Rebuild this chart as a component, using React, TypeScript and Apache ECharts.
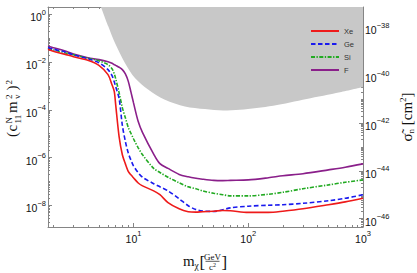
import React, { useEffect, useRef } from "react";
import * as echarts from "echarts";

// WIMP mass samples [GeV/c^2]
const masses = [1.8, 2, 2.5, 3, 4, 5, 6, 6.5, 6.8, 7, 7.5, 8, 8.5, 9, 9.5, 10, 11, 12, 15, 17, 20, 25, 30, 35, 40, 50, 60, 70, 100, 150, 200, 300, 500, 700, 1000];
// log10 of (c11^N m_v^2)^2 limits
const xeLog = [-1.47, -1.55, -1.67, -1.78, -1.93, -2.14, -2.53, -2.95, -3.23, -3.79, -5.13, -5.88, -6.26, -6.57, -6.72, -6.84, -7.06, -7.18, -7.39, -7.55, -7.88, -8.14, -8.26, -8.28, -8.26, -8.24, -8.21, -8.22, -8.29, -8.29, -8.24, -8.14, -7.97, -7.85, -7.70];
const geLog = [-1.39, -1.47, -1.57, -1.70, -1.86, -2.03, -2.32, -2.57, -2.83, -3.03, -3.54, -4.65, -5.32, -5.80, -6.10, -6.34, -6.63, -6.82, -7.09, -7.22, -7.39, -7.72, -8.01, -8.17, -8.23, -8.25, -8.18, -8.10, -8.03, -7.99, -7.97, -7.91, -7.80, -7.70, -7.55];
const siLog = [-1.42, -1.49, -1.61, -1.70, -1.84, -1.95, -2.11, -2.28, -2.49, -2.70, -3.29, -3.91, -4.33, -4.73, -4.98, -5.21, -5.59, -5.88, -6.45, -6.62, -6.82, -7.05, -7.22, -7.30, -7.39, -7.49, -7.55, -7.60, -7.60, -7.53, -7.45, -7.30, -7.14, -7.03, -6.93];
const fLog = [-1.34, -1.40, -1.53, -1.67, -1.82, -1.90, -1.99, -2.05, -2.11, -2.14, -2.22, -2.32, -2.50, -2.80, -3.25, -3.70, -4.49, -4.95, -5.85, -6.25, -6.45, -6.70, -6.80, -6.86, -6.90, -6.95, -6.96, -6.95, -6.93, -6.84, -6.76, -6.67, -6.51, -6.40, -6.26];

// grey excluded region boundary
const exclMass = [5.21, 6.03, 6.9, 8.43, 10.3, 13.5, 18.8, 28.1, 42, 60.5, 84.7, 165, 323, 630, 1000];
const exclLog = [0.3, -0.51, -1.21, -2.04, -2.67, -3.16, -3.58, -3.86, -3.97, -4.03, -4.0, -3.83, -3.55, -3.27, -3.05];

const seriesNames = ["Xe", "Ge", "Si", "F"];
const seriesColors = ["#ee1a1a", "#1a1aee", "#22aa22", "#8a1f8a"];

// axis ranges (log10)
const xMinVal = 1.8;
const xMaxVal = 1000;
const yLeftRange = [-8.9, 0.3];
const yRightRange = [-46.35, -37.15];
const xLabelExps = [1, 2, 3];
const yLeftLabelExps = [0, -2, -4, -6, -8];
const yRightLabelExps = [-38, -40, -42, -44, -46];

const L = Math.log10;

function minorLogTicks(lo: number, hi: number, majors: number[]) {
  const out: number[] = [];
  for (let d = Math.floor(lo) - 1; d <= Math.ceil(hi); d++) {
    for (let k = 1; k <= 9; k++) {
      const v = d + L(k);
      if (v >= lo - 1e-9 && v <= hi + 1e-9 && !majors.some((m) => Math.abs(m - v) < 1e-6)) out.push(v);
    }
  }
  return out;
}

const fmtExp = (v: number) => {
  const r = Math.round(v);
  return r < 0 ? "\u2212" + Math.abs(r) : String(r);
};

const App = () => {
  const ref = useRef<HTMLDivElement>(null);
  useEffect(() => {
    const chart = echarts.init(ref.current!, null, { renderer: "svg" });
    const frame = "#858585";
    const xMin = L(xMinVal);
    const xMax = L(xMaxVal);
    const labelRich = {
      b: { fontSize: 10.5, fontFamily: "Liberation Sans", color: "#111", padding: [6, 0, 0, 0] },
      s: { fontSize: 7.5, fontFamily: "Liberation Sans", color: "#111", padding: [0, 0, 4, 0] },
    };
    const fmt = (v: number) => `{b|10}{s|${fmtExp(v)}}`;

    const xAxisDef = (pos: string, ticks: number[], len: number, line: boolean, labels: boolean) => ({
      type: "value",
      position: pos,
      min: xMin,
      max: xMax,
      axisLine: { show: line, onZero: false, lineStyle: { color: frame, width: 1 } },
      axisTick: { show: true, inside: true, length: len, customValues: ticks, lineStyle: { color: frame, width: 1 } },
      axisLabel: labels
        ? { show: true, customValues: xLabelExps, formatter: fmt, rich: labelRich, margin: 0 }
        : { show: false },
      splitLine: { show: false },
    });
    const yAxisDef = (pos: string, range: number[], ticks: number[], len: number, line: boolean, labelVals: number[] | null) => ({
      type: "value",
      position: pos,
      min: range[0],
      max: range[1],
      axisLine: { show: line, onZero: false, lineStyle: { color: frame, width: 1 } },
      axisTick: { show: true, inside: true, length: len, customValues: ticks, lineStyle: { color: frame, width: 1 } },
      axisLabel: labelVals
        ? { show: true, customValues: labelVals, formatter: fmt, rich: labelRich, margin: 2 }
        : { show: false },
      splitLine: { show: false },
    });

    const xMinor = minorLogTicks(xMin, xMax, xLabelExps);
    const yLMinor = minorLogTicks(yLeftRange[0], yLeftRange[1], yLeftLabelExps);
    const yRMinor = minorLogTicks(yRightRange[0], yRightRange[1], yRightLabelExps);

    const curves = [xeLog, geLog, siLog, fLog];
    const dashTypes: any[] = ["solid", [4.5, 2.5], [4, 1.5, 1.3, 1.5], "solid"];

    const lineSeries = curves.map((ys, i) => ({
      name: seriesNames[i],
      type: "line",
      xAxisIndex: 0,
      yAxisIndex: 0,
      data: masses.map((m, j) => [L(m), ys[j]]),
      symbol: "none",
      showSymbol: false,
      smooth: 0.3,
      clip: true,
      lineStyle: { color: seriesColors[i], width: 1.6, type: dashTypes[i] },
      itemStyle: { color: seriesColors[i] },
      z: 10 - i,
    }));

    const serif = "Liberation Serif";
    const ink = "#111";
    const t = (text: string, x: number, y: number, fontSize: number, extra: any = {}) => ({
      type: "text",
      x,
      y,
      style: { text, fontSize, fontFamily: serif, fill: ink, verticalAlign: "middle", align: "left", ...extra },
    });

    const option: any = {
      animation: false,
      backgroundColor: "#ffffff",
      grid: { left: 48, top: 7, width: 315, height: 220, containLabel: false },
      xAxis: [
        xAxisDef("bottom", xLabelExps, 4, true, true),
        xAxisDef("bottom", xMinor, 2, false, false),
        xAxisDef("top", xLabelExps, 4, true, false),
        xAxisDef("top", xMinor, 2, false, false),
      ],
      yAxis: [
        yAxisDef("left", yLeftRange, yLeftLabelExps, 4, true, yLeftLabelExps),
        yAxisDef("left", yLeftRange, yLMinor, 2, false, null),
        yAxisDef("right", yRightRange, yRightLabelExps, 4, true, yRightLabelExps),
        yAxisDef("right", yRightRange, yRMinor, 2, false, null),
      ],
      legend: {
        data: seriesNames,
        orient: "vertical",
        left: 305,
        top: 22,
        itemWidth: 28,
        itemHeight: 9,
        itemGap: 5,
        itemStyle: { opacity: 0, borderWidth: 0 },
        textStyle: { fontSize: 7.5, color: "#333", fontFamily: "Liberation Sans" },
      },
      series: [
        {
          name: "excluded",
          type: "line",
          xAxisIndex: 0,
          yAxisIndex: 0,
          data: exclMass.map((m, j) => [L(m), exclLog[j]]),
          symbol: "none",
          smooth: 0.3,
          clip: true,
          silent: true,
          lineStyle: { width: 0, color: "#c8c8c8" },
          areaStyle: { color: "#c8c8c8", opacity: 1, origin: "end" },
          z: 1,
        },
        ...lineSeries,
      ],
      graphic: [
        {
          type: "group",
          x: 12,
          y: 108,
          rotation: Math.PI / 2,
          children: [
            t("(", -29, 0, 15),
            t("c", -23.5, 0, 15),
            t("N", -15.5, -3.5, 9),
            t("11", -15.5, 5.5, 9),
            t("m", -5, 0, 15),
            t("2", 9, -3.5, 9),
            t("v", 9, 5, 9),
            t(")", 17.5, 0, 15),
            t("2", 23.5, -3.5, 9),
          ],
        },
        {
          type: "text",
          x: 407,
          y: 117,
          rotation: Math.PI / 2,
          style: {
            text: "\u03c3\u0303{sub|n} [cm{sup|2}]",
            fontSize: 15,
            fontFamily: serif,
            fill: ink,
            align: "center",
            verticalAlign: "middle",
            rich: {
              sub: { fontSize: 9, fontFamily: serif, fill: ink, padding: [8, 0, 0, 0] },
              sup: { fontSize: 9, fontFamily: serif, fill: ink, padding: [0, 0, 8, 0] },
            },
          },
        },
        t("m", 183, 260.5, 15),
        t("\u03c7", 194.5, 266, 9.5),
        t("[", 199.5, 262, 17),
        t("GeV", 212.5, 256.5, 9, { align: "center" }),
        {
          type: "line",
          shape: { x1: 205.5, y1: 261.3, x2: 219.5, y2: 261.3 },
          style: { stroke: ink, lineWidth: 0.7 },
        },
        {
          type: "text",
          x: 212.5,
          y: 267,
          style: {
            text: "c{s|2}",
            fontSize: 9,
            fontFamily: serif,
            fill: ink,
            align: "center",
            verticalAlign: "middle",
            rich: { s: { fontSize: 6, fontFamily: serif, fill: ink, padding: [0, 0, 5, 0] } },
          },
        },
        t("]", 221.5, 262, 17),
      ],
    };
    chart.setOption(option);
    return () => chart.dispose();
  }, []);
  return (
    <div
      ref={ref}
      style={{ position: "fixed", left: 0, top: 0, width: 417, height: 273, background: "#fff" }}
    />
  );
};

export default App;
